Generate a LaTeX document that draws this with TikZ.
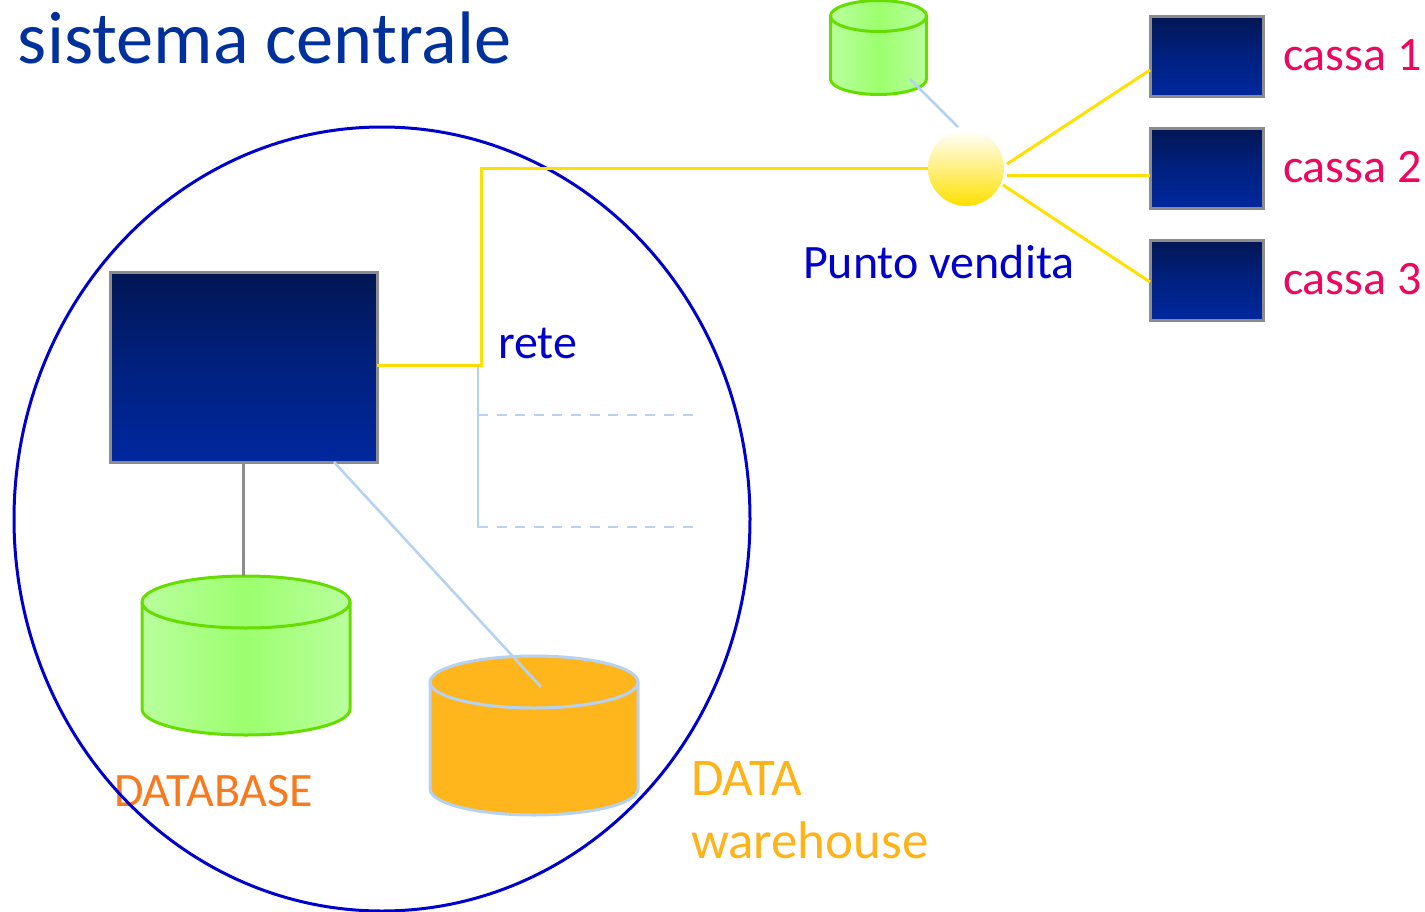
\documentclass[tikz,border=0pt]{standalone}
\usepackage{fontspec}
\setmainfont{Carlito}
\usetikzlibrary{shapes.geometric}
\definecolor{navyA}{HTML}{011653}
\definecolor{navyB}{HTML}{00217F}
\definecolor{navyC}{HTML}{00279E}
\definecolor{edgeG}{HTML}{8C8C8C}
\definecolor{ringB}{HTML}{0000CC}
\definecolor{titleB}{HTML}{00309C}
\definecolor{netY}{HTML}{FFE000}
\definecolor{paleB}{HTML}{B5D2F2}
\definecolor{dbEdge}{HTML}{66DD00}
\definecolor{dbLight}{HTML}{B9FF9E}
\definecolor{dbMid}{HTML}{9CFF6E}
\definecolor{whFill}{HTML}{FFB61C}
\definecolor{dbText}{HTML}{F97A1E}
\definecolor{whText}{HTML}{FFB31A}
\definecolor{posText}{HTML}{F0055F}
\pgfdeclareverticalshading{srvshade}{100bp}{color(0bp)=(navyC); color(25bp)=(navyC); color(50bp)=(navyB); color(75bp)=(navyA); color(100bp)=(navyA)}
\tikzset{
  srvbox/.style={rectangle,draw=edgeG,line width=1.5pt,shading=srvshade,inner sep=0pt,outer sep=0pt},
  lbl/.style={anchor=base west,inner sep=0pt,outer sep=0pt,font=\fontsize{24}{28}\selectfont},
  lblbig/.style={lbl,font=\fontsize{26.5}{30}\selectfont},
  yline/.style={draw=netY,line width=1.5pt},
  pline/.style={draw=paleB,line width=1.3pt},
  pdash/.style={pline,dash pattern=on 5pt off 4.3pt},
  gline/.style={draw=edgeG,line width=1.5pt},
  greendrum/.style={left color=dbLight,right color=dbLight,middle color=dbMid},
  orangedrum/.style={fill=whFill},
}
% name, cx, y of top ellipse centre, rx, ry, height between ellipse centres, fill style, edge colour
\newcommand\drumshape[8]{%
  \node[inner sep=0pt,outer sep=0pt,minimum width=#4*1pt,minimum height={(2*#5+#6)*0.5pt}] (#1) at (#2,#3+#6/2) {};
  \path[#7] (#2-#4,#3) arc[start angle=180,end angle=0,x radius=#4*0.5pt,y radius=#5*0.5pt]
     -- (#2+#4,#3+#6) arc[start angle=360,end angle=180,x radius=#4*0.5pt,y radius=#5*0.5pt] -- cycle;
  \draw[draw=#8,line width=1.5pt,line join=round] (#2-#4,#3) arc[start angle=180,end angle=0,x radius=#4*0.5pt,y radius=#5*0.5pt]
     -- (#2+#4,#3+#6) arc[start angle=360,end angle=180,x radius=#4*0.5pt,y radius=#5*0.5pt] -- cycle;
  \draw[draw=#8,line width=1.5pt] (#2-#4,#3) arc[start angle=180,end angle=360,x radius=#4*0.5pt,y radius=#5*0.5pt];
}
\begin{document}
\begin{tikzpicture}[x=0.5pt,y=-0.5pt]
\useasboundingbox (0,0) rectangle (1425,911);
% text
\node[lbl,text=titleB,font=\fontsize{37.2}{42}\selectfont] (title) at (18,63) {sistema centrale};
\node[lbl,text=dbText] (dblabel) at (114,806) {DATABASE};
\node[lblbig,text=whText] (wh1) at (691,795) {DATA};
\node[lblbig,text=whText] (wh2) at (691,858) {warehouse};
\node[lbl,text=ringB] (netlabel) at (498,358) {rete};
\node[lbl,text=ringB] (poslabel) at (803,278) {Punto vendita};
\node[lbl,text=posText] (c1label) at (1283,70) {cassa 1};
\node[lbl,text=posText] (c2label) at (1283,182) {cassa 2};
\node[lbl,text=posText] (c3label) at (1283,294) {cassa 3};
% central system ring
\node[ellipse,draw=ringB,line width=1.5pt,inner sep=0pt,outer sep=0pt,minimum width=368pt,minimum height=392pt] (ring) at (382,519) {};
% boxes
\node[srvbox,minimum width=133.5pt,minimum height=95pt] (server) at (243.5,367) {};
\node[srvbox,minimum width=56.5pt,minimum height=40pt] (cassa1) at (1206.5,56) {};
\node[srvbox,minimum width=56.5pt,minimum height=40pt] (cassa2) at (1206.5,168) {};
\node[srvbox,minimum width=56.5pt,minimum height=40pt] (cassa3) at (1206.5,280) {};
% drums
\drumshape{dbdrum}{246}{602}{104}{26}{107}{greendrum}{dbEdge}
\drumshape{whdrum}{534}{682}{104}{26}{107}{orangedrum}{paleB}
\drumshape{posdrum}{878.5}{16}{48}{15.5}{63}{greendrum}{dbEdge}
% hub
\node[circle,top color=white,bottom color=netY,inner sep=0pt,outer sep=0pt,minimum size=38pt] (hub) at (966,168) {};
% network connectors
\coordinate (netlow) at (481,365);
\coordinate (nethigh) at (481,168);
\coordinate (treetop) at (478,367);
\coordinate (treemid) at (478,415);
\coordinate (treelow) at (478,527);
\coordinate (endmid) at (694,415);
\coordinate (endlow) at (694,527);
\draw[pline,line cap=rect] (treetop) -- (treelow);
\draw[pdash] (treemid) -- (endmid);
\draw[pdash] (treelow) -- (endlow);
\draw[yline,line join=miter] ([yshift=1pt]server.east) -- (netlow) -- (nethigh) -- (hub.west);
\draw[yline] ([shift={(3,-4)}]hub.east) -- ([yshift=-7pt]cassa1.west);
\draw[yline] ([shift={(3,7)}]hub.east) -- ([yshift=-3.5pt]cassa2.west);
\draw[yline] ([shift={(-1,17)}]hub.east) -- ([yshift=-1pt]cassa3.west);
\draw[gline] (server.south) -- (server.south |- dbdrum.north);
\draw[pline] ([xshift=45.25pt]server.south) -- ([shift={(7,-48.5)}]whdrum.center);
\draw[pline] ([shift={(31.5,31.5)}]posdrum.center) -- ([shift={(-8,-3)}]hub.north);
\end{tikzpicture}
\end{document}
